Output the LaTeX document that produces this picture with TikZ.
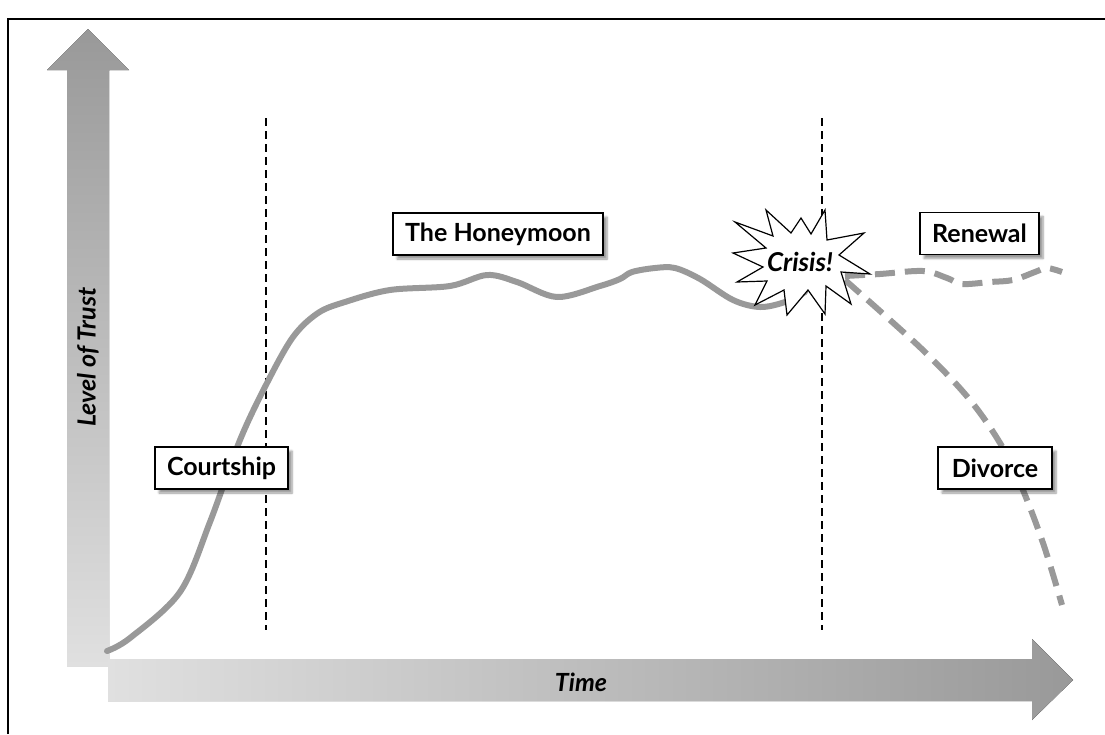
\documentclass[tikz,border=0pt]{standalone}
\usepackage{fontspec}
\setmainfont{Lato}
\usetikzlibrary{shadows.blur}
\definecolor{curvegray}{HTML}{999999}
\definecolor{arrowdark}{HTML}{999999}
\definecolor{arrowlight}{HTML}{E0E0E0}
\tikzset{
  labelbox/.style={draw=black, line width=1.3pt, fill=white, font=\bfseries\fontsize{25}{28}\selectfont,
    inner sep=0pt, minimum height=42pt,
    blur shadow={shadow xshift=4pt, shadow yshift=-4pt, shadow blur steps=6, shadow opacity=40}},
  phaseline/.style={black, line width=1.5pt, dash pattern=on 8pt off 5pt},
  trustcurve/.style={curvegray, line width=6pt, line cap=round, line join=round},
  futurecurve/.style={curvegray, line width=6pt, dash pattern=on 20pt off 10pt},
  axislabel/.style={font=\bfseries\itshape\fontsize{25}{28}\selectfont}
}
\begin{document}
\begin{tikzpicture}[x=1pt,y=-1pt]
\useasboundingbox (0,0) rectangle (1105,734);
% frame
\draw[line width=1.5pt] (8,734) -- (8,19) -- (1105,19);
% vertical arrow
\fill[top color=arrowdark, bottom color=arrowlight]
  (67,666) -- (67,70) -- (47,70) -- (88,29) -- (129,70) -- (109,70) -- (109,666) -- cycle;
% horizontal arrow
\fill[left color=arrowlight, right color=arrowdark]
  (108,659) -- (1032,659) -- (1032,639) -- (1073,680) -- (1032,720) -- (1032,701) -- (108,701) -- cycle;
\node[axislabel, rotate=90] (trust) at (88,357) {Level of Trust};
\node[axislabel] (time) at (581,682) {Time};
% phase lines
\coordinate (p1t) at (266,118); \coordinate (p1b) at (266,630);
\coordinate (p2t) at (822,118); \coordinate (p2b) at (822,630);
\draw[phaseline] (p1t) -- (p1b);
\draw[phaseline] (p2t) -- (p2b);
% trust curve
\draw[trustcurve] plot[smooth, tension=0.55] coordinates {
  (107,651) (130,638) (180,592) (210,522) (240,440) (267,383) (293,337) (318,313)
  (345,302) (390,290) (450,286) (487,275) (517,282) (557,297) (600,286) (620,279)
  (632,272) (655,268) (675,268) (700,279) (733,300) (760,307) (785,302) (805,292)};
% renewal and divorce
\draw[futurecurve] plot[smooth, tension=0.55] coordinates {
  (845,276) (880,274) (923,271) (947,278) (962,284) (990,282) (1013,280) (1035,272) (1047,268) (1062,272)};
\draw[futurecurve] plot[smooth, tension=0.6] coordinates {
  (845,280) (890,320) (930,357) (970,400) (1000,443) (1020,483) (1043,543) (1062,605)};
% crisis starburst
\draw[fill=white, line width=1.2pt, line join=miter]
  (733,253) -- (766,248) -- (735,222) -- (773,236) -- (766,210) -- (791,233) -- (801,218)
  -- (811,234) -- (825,210) -- (827,240) -- (864,233) -- (839,255) -- (870,274) -- (841,272)
  -- (851,304) -- (826,286) -- (825,314) -- (808,290) -- (787,315) -- (784,290) -- (755,305)
  -- (767,281) -- (737,282) -- (763,267) -- cycle;
\node[font=\bfseries\itshape\fontsize{26}{28}\selectfont] (crisis) at (800,262) {Crisis!};
% labels
\node[labelbox, minimum width=133pt] (courtship) at (221.5,468) {Courtship};
\node[labelbox, minimum width=210pt] (honeymoon) at (498,234) {The Honeymoon};
\node[labelbox, minimum width=119pt] (renewal) at (979.5,233.5) {Renewal};
\node[labelbox, minimum width=114pt] (divorce) at (995,468) {Divorce};
\end{tikzpicture}
\end{document}
